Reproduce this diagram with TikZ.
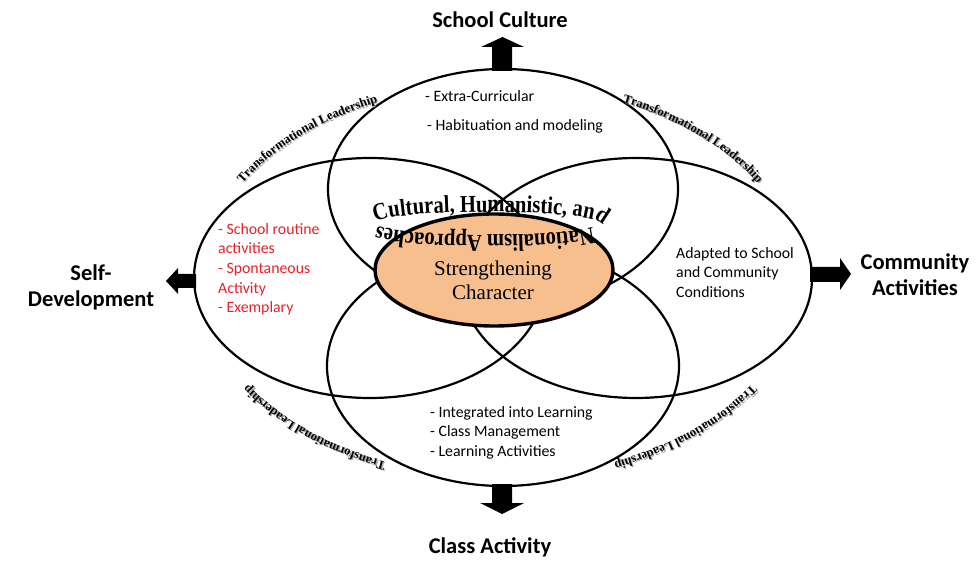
\documentclass[tikz,border=0pt]{standalone}
\usepackage{fontspec}
\usetikzlibrary{decorations.text}
\setmainfont{Carlito}
\newfontfamily\bodyserif{Liberation Serif}
\newfontfamily\arcfont[FakeStretch=0.85]{Liberation Serif}
\newfontfamily\leadfont{Liberation Serif}

\definecolor{peach}{RGB}{247,191,142}
\definecolor{listred}{RGB}{232,32,40}

\begin{document}
\begin{tikzpicture}[x=1pt,y=1pt,
  ring/.style={line width=2.2pt},
  heading/.style={font=\fontsize{22.5}{26}\selectfont\bfseries, align=center, inner sep=0pt},
  itemtext/.style={font=\fontsize{15.8}{19.7}\selectfont, align=left, anchor=north west, inner sep=0pt},
  blockarrow/.style={fill=black, draw=none},
  leadtext/.style={decorate, decoration={text along path, text align=center,
      text={|\leadfont\bfseries\fontsize{12.6}{14}\selectfont\color{#1}|Transformational Leadership}}},
]
\useasboundingbox (0,0) rectangle (979,560);

% the four overlapping fields
\draw[ring] (503,371) ellipse [x radius=175, y radius=120];
\draw[ring] (503,194) ellipse [x radius=176, y radius=120];
\draw[ring] (370,282) ellipse [x radius=176, y radius=120];
\draw[ring] (636,282) ellipse [x radius=176, y radius=120];

% block arrows pointing outwards
\fill[blockarrow] (492,489) -- (492,513) -- (481,513) -- (502.5,523) -- (524,513) -- (512,513) -- (512,489) -- cycle;
\fill[blockarrow] (492,76) -- (492,57) -- (480,57) -- (502,46) -- (524,57) -- (512,57) -- (512,76) -- cycle;
\fill[blockarrow] (196,286) -- (178,286) -- (178,292) -- (166,279) -- (178,266) -- (178,272) -- (196,272) -- cycle;
\fill[blockarrow] (810,293) -- (840,293) -- (840,302) -- (851,286) -- (840,270) -- (840,278) -- (810,278) -- cycle;

% outer headings
\node[heading] (culture) at (500,540) {School Culture};
\node[heading] (classact) at (490,13) {Class Activity};
\node[heading] (selfdev) at (91,273) {Self-\\Development};
\node[heading] (community) at (915,285) {Community\\Activities};

% contents of each field
\node[itemtext] (extra) at (425,470) {- Extra-Curricular};
\node[itemtext] (habit) at (427,441) {- Habituation and modeling};
\node[itemtext, text=listred] (routine) at (218,337) {- School routine\\activities\\- Spontaneous\\Activity\\- Exemplary};
\node[itemtext] (adapted) at (676,313) {Adapted to School\\and Community\\Conditions};
\node[itemtext] (learning) at (430,154) {- Integrated into Learning\\- Class Management\\- Learning Activities};

% central core
\draw[line width=3.4pt, fill=peach] (494,290) ellipse [x radius=119, y radius=56];
\node[font=\bodyserif\fontsize{21}{24}\selectfont, align=center] (core) at (493,280) {Strengthening\\Character};

% approach title wrapped round the core
\path[decorate, decoration={text along path, text align=left,
    text={|\arcfont\bfseries\fontsize{24.2}{25}\selectfont|Cultural, Humanistic, and Nationalism Approaches}},
    shift={(488,336.5)}]
  (179:112 and 11.5) arc[start angle=179, end angle=-180, x radius=112, y radius=11.5];

% leadership labels on an outer ring, with a soft shadow
\foreach \ang in {134,46,-132,-48}{
  \path[leadtext=black!35, shift={(501.3,277.7)}]
    (\ang+30:297 and 196) arc[start angle=\ang+30, end angle=\ang-30, x radius=297, y radius=196];
  \path[leadtext=black, shift={(500,279)}]
    (\ang+30:297 and 196) arc[start angle=\ang+30, end angle=\ang-30, x radius=297, y radius=196];
}
\end{tikzpicture}
\end{document}
